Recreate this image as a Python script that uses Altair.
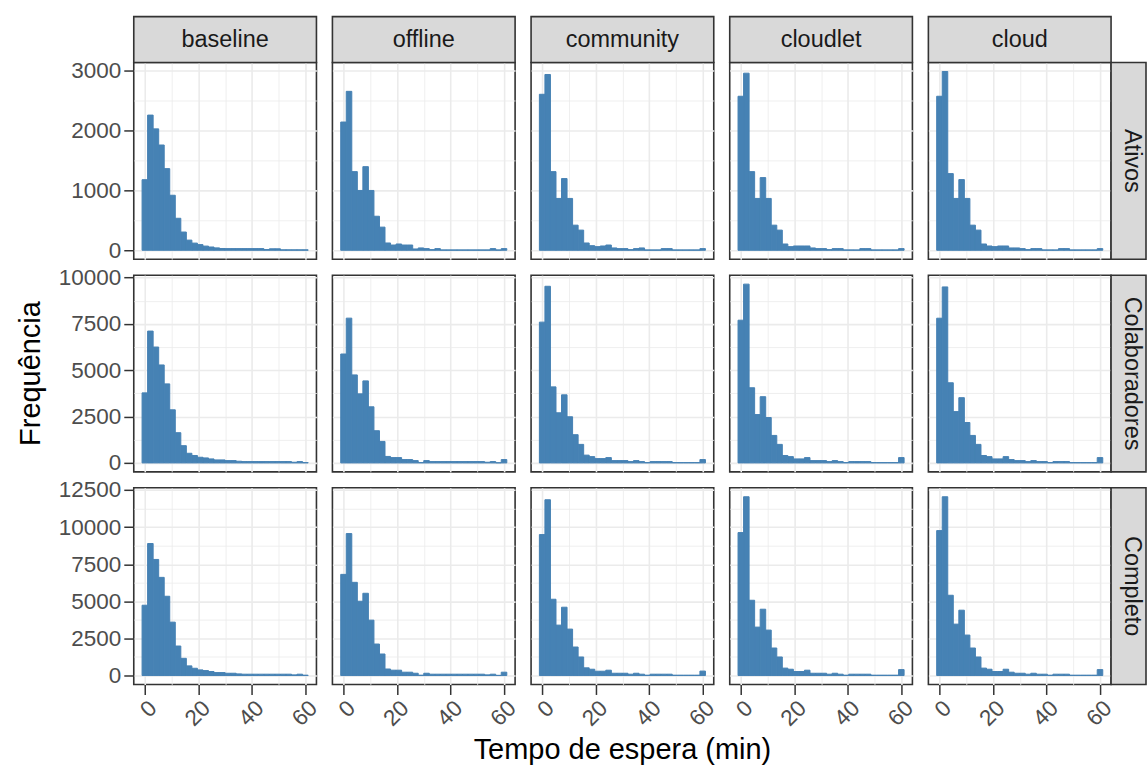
import altair as alt
import pandas as pd

methods = ["baseline", "offline", "community", "cloudlet", "cloud"]
groups = ["Ativos", "Colaboradores", "Completo"]

# histogram: 30 bins of width 60/29 min, centred on 0 ... 60
bin_width = 60 / 29
bin_lo = [(i - 0.5) * bin_width for i in range(30)]
bin_hi = [(i + 0.5) * bin_width for i in range(30)]

# ---- counts per bin ----
ativos_baseline = [1180, 2260, 2030, 1760, 1365, 920, 535, 305, 170, 120, 95, 70, 55, 40, 30,
                   28, 28, 28, 28, 28, 28, 28, 12, 25, 25, 8, 8, 8, 8, 8]
ativos_offline = [2144, 2657, 1315, 1000, 1398, 1000, 569, 387, 122, 88, 105, 88, 88, 22, 39,
                  28, 11, 28, 6, 6, 6, 6, 6, 6, 6, 6, 6, 28, 6, 28]
ativos_community = [2608, 2939, 1315, 867, 1199, 867, 420, 337, 122, 77, 61, 72, 88, 39, 28,
                    28, 11, 28, 39, 6, 6, 6, 28, 28, 6, 6, 6, 6, 6, 28]
ativos_cloudlet = [2575, 2961, 1315, 867, 1215, 867, 420, 337, 105, 61, 72, 72, 72, 39, 28,
                   28, 11, 28, 28, 6, 6, 6, 28, 28, 6, 6, 6, 6, 6, 28]
ativos_cloud = [2575, 2989, 1282, 867, 1182, 867, 420, 337, 105, 72, 61, 72, 72, 39, 39,
                28, 11, 28, 28, 6, 6, 6, 28, 28, 6, 6, 6, 6, 6, 28]

colab_baseline = [3781, 7115, 6254, 5287, 4265, 2867, 1631, 930, 520, 400, 305, 269, 215, 161, 161,
                  125, 125, 90, 72, 72, 72, 72, 72, 72, 72, 72, 72, 36, 72, 18]
colab_offline = [5878, 7814, 4749, 3728, 4427, 3029, 1738, 1160, 350, 287, 287, 180, 180, 125, 20,
                 125, 72, 72, 72, 72, 72, 72, 72, 72, 72, 72, 36, 72, 10, 180]
colab_community = [7599, 9534, 4104, 2706, 3674, 2491, 1523, 1000, 420, 340, 233, 233, 287, 125, 125,
                   125, 72, 125, 72, 18, 72, 72, 72, 72, 18, 18, 18, 18, 18, 180]
colab_cloudlet = [7703, 9650, 4057, 2610, 3574, 2449, 1483, 1000, 400, 340, 215, 215, 287, 125, 125,
                  125, 72, 125, 72, 18, 72, 72, 72, 72, 18, 18, 18, 18, 18, 287]
colab_cloud = [7810, 9500, 4326, 2770, 3521, 2181, 1483, 1000, 400, 340, 215, 215, 340, 180, 125,
               125, 72, 125, 72, 72, 18, 72, 72, 72, 18, 18, 18, 18, 18, 287]

compl_baseline = [4736, 8892, 7820, 6613, 5340, 3597, 1988, 1160, 650, 490, 380, 335, 270, 200, 200,
                  155, 155, 110, 90, 90, 90, 90, 90, 90, 90, 90, 90, 45, 90, 25]
compl_offline = [6814, 9562, 6278, 5004, 5541, 3731, 2122, 1450, 440, 360, 360, 225, 225, 155, 25,
                 155, 90, 90, 90, 90, 90, 90, 90, 90, 90, 90, 45, 90, 15, 225]
compl_community = [9495, 11841, 5139, 3396, 4602, 3128, 1921, 1250, 520, 425, 290, 290, 360, 155, 155,
                   155, 90, 155, 90, 25, 90, 90, 90, 90, 25, 25, 25, 25, 25, 300]
compl_cloudlet = [9629, 12042, 5071, 3262, 4468, 3061, 1854, 1250, 500, 425, 270, 270, 360, 155, 155,
                  155, 90, 155, 90, 25, 90, 90, 90, 90, 25, 25, 25, 25, 25, 400]
compl_cloud = [9763, 12042, 5407, 3463, 4401, 2726, 1854, 1250, 500, 425, 270, 270, 425, 225, 155,
               155, 90, 155, 90, 90, 25, 90, 90, 90, 25, 25, 25, 25, 25, 400]

counts = {
    "Ativos": [ativos_baseline, ativos_offline, ativos_community, ativos_cloudlet, ativos_cloud],
    "Colaboradores": [colab_baseline, colab_offline, colab_community, colab_cloudlet, colab_cloud],
    "Completo": [compl_baseline, compl_offline, compl_community, compl_cloudlet, compl_cloud],
}

# axis ticks (major + minor grid)
x_ticks = [0, 10, 20, 30, 40, 50, 60]
x_major = 20
y_ticks = {
    "Ativos": [0, 500, 1000, 1500, 2000, 2500, 3000],
    "Colaboradores": [0, 1250, 2500, 3750, 5000, 6250, 7500, 8750, 10000],
    "Completo": [0, 1250, 2500, 3750, 5000, 6250, 7500, 8750, 10000, 11250, 12500],
}
y_major = {"Ativos": 1000, "Colaboradores": 2500, "Completo": 2500}

x_title = "Tempo de espera (min)"
y_title = "Frequência"

# ---- styling ----
W, H = 183, 197
FONT = "Liberation Sans"
BAR = "#4682b4"
GRID = "#ebebeb"
DARK = "#333333"
STRIP_FILL = "#d9d9d9"
TICK_FS = 22.5
STRIP_FS = 23.5
TITLE_FS = 29
STRIP_H = 46
STRIP_W = 35


def panel(r, c):
    g = groups[r]
    df = pd.DataFrame({"lo": bin_lo, "hi": bin_hi, "n": counts[g][c]})
    rmax = max(max(v) for v in counts[g])
    ydom = [-0.05 * rmax, 1.05 * rmax]
    span = bin_hi[-1] - bin_lo[0]
    xdom = [bin_lo[0] - 0.05 * span, bin_hi[-1] + 0.05 * span]

    xt = f"datum.value % {x_major} === 0"
    yt = f"datum.value % {y_major[g]} === 0"

    if r == len(groups) - 1:
        xaxis = alt.Axis(values=x_ticks, title=None, domain=False, grid=True, gridColor=GRID,
                         gridWidth={"expr": f"{xt} ? 1.6 : 0.8"},
                         labelExpr=f"{xt} ? datum.label : ''", labelAngle=315,
                         labelAlign="right", labelBaseline="top", labelFont=FONT,
                         labelFontSize=TICK_FS, labelColor="#4d4d4d", labelPadding=2,
                         ticks=True, tickSize=10, tickColor=DARK, tickWidth=1.5,
                         tickOpacity={"expr": f"{xt} ? 1 : 0"})
    else:
        xaxis = alt.Axis(values=x_ticks, title=None, domain=False, labels=False, ticks=False,
                         grid=True, gridColor=GRID, gridWidth={"expr": f"{xt} ? 1.6 : 0.8"})
    if c == 0:
        yaxis = alt.Axis(values=y_ticks[g], title=None, domain=False, grid=True, gridColor=GRID,
                         gridWidth={"expr": f"{yt} ? 1.6 : 0.8"}, format="d",
                         labelExpr=f"{yt} ? datum.label : ''", labelFont=FONT,
                         labelFontSize=TICK_FS, labelColor="#4d4d4d", labelPadding=3,
                         ticks=True, tickSize=10, tickColor=DARK, tickWidth=1.5,
                         tickOpacity={"expr": f"{yt} ? 1 : 0"})
    else:
        yaxis = alt.Axis(values=y_ticks[g], title=None, domain=False, labels=False, ticks=False,
                         grid=True, gridColor=GRID, gridWidth={"expr": f"{yt} ? 1.6 : 0.8"})

    bars = alt.Chart(df).mark_rect(color=BAR, stroke=BAR, strokeWidth=1).encode(
        x=alt.X("lo:Q", scale=alt.Scale(domain=xdom, nice=False, zero=False), axis=xaxis),
        x2="hi:Q",
        y=alt.Y("n:Q", scale=alt.Scale(domain=ydom, nice=False, zero=False), axis=yaxis),
        y2=alt.datum(0),
    )
    layers = [bars]

    if r == 0:
        sdf = pd.DataFrame({"lab": [methods[c]]})
        layers.append(alt.Chart(sdf).mark_rect(fill=STRIP_FILL, stroke=DARK, strokeWidth=1.6).encode(
            x=alt.value(0), x2=alt.value(W), y=alt.value(-STRIP_H), y2=alt.value(0)))
        layers.append(alt.Chart(sdf).mark_text(font=FONT, fontSize=STRIP_FS, color="#1a1a1a",
                                               baseline="middle", align="center").encode(
            x=alt.value(W / 2), y=alt.value(-STRIP_H / 2), text="lab:N"))
    if c == len(methods) - 1:
        sdf = pd.DataFrame({"lab": [g]})
        layers.append(alt.Chart(sdf).mark_rect(fill=STRIP_FILL, stroke=DARK, strokeWidth=1.6).encode(
            x=alt.value(W), x2=alt.value(W + STRIP_W), y=alt.value(0), y2=alt.value(H)))
        layers.append(alt.Chart(sdf).mark_text(font=FONT, fontSize=STRIP_FS, color="#1a1a1a",
                                               baseline="middle", align="center", angle=90).encode(
            x=alt.value(W + 21), y=alt.value(H / 2), text="lab:N"))
    if r == 1 and c == 0:
        tdf = pd.DataFrame({"lab": [y_title]})
        layers.append(alt.Chart(tdf).mark_text(font=FONT, fontSize=TITLE_FS, color="black",
                                               baseline="middle", align="center", angle=270).encode(
            x=alt.value(-103), y=alt.value(H / 2), text="lab:N"))
    if r == len(groups) - 1 and c == 2:
        tdf = pd.DataFrame({"lab": [x_title]})
        layers.append(alt.Chart(tdf).mark_text(font=FONT, fontSize=TITLE_FS, color="black",
                                               baseline="middle", align="center").encode(
            x=alt.value(W / 2), y=alt.value(H + 66), text="lab:N"))

    return alt.layer(*layers).properties(width=W, height=H)


panels = [panel(r, c) for r in range(len(groups)) for c in range(len(methods))]

chart = alt.concat(*panels, columns=5, spacing=16, bounds="flush").properties(
    padding={"left": 16, "top": 14, "right": 0, "bottom": 2},
    background="white",
).configure_view(stroke=DARK, strokeWidth=1.6, fill="white")

chart.save("out.html", embed_options={"renderer": "svg", "actions": False})
